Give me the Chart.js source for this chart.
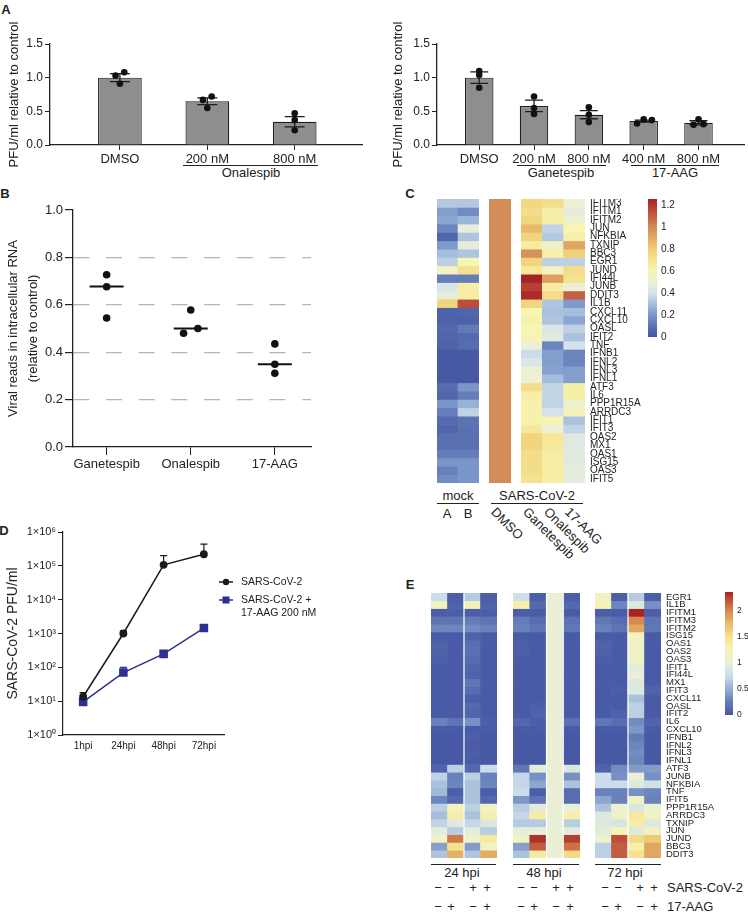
<!DOCTYPE html>
<html>
<head>
<meta charset="utf-8">
<title>HSP90 inhibitors and SARS-CoV-2</title>
<script src="https://cdn.jsdelivr.net/npm/chart.js@4.4.1/dist/chart.umd.min.js"></script>
<style>
  html, body { margin: 0; background: #fff; }
  #fig { position: relative; width: 748px; height: 913px; overflow: hidden;
         font-family: 'Liberation Sans', Arial, sans-serif; color: #222; }
  #fig canvas { position: absolute; }
  .c, .l, .r { position: absolute; white-space: nowrap; line-height: 1; font-size: 13px; }
  .c { transform: translate(-50%, -50%); }
  .l { transform: translateY(-50%); }
  .r { transform-origin: 0 0; transform: rotate(45deg); }
  .p { font-weight: bold; }
  .u { position: absolute; height: 0; border-top: 1.3px solid #222; }
</style>
</head>
<body>
<div id="fig">
  <div class="c p" style="left:6px;top:9px">A</div>
  <div class="c p" style="left:5px;top:193px">B</div>
  <div class="c p" style="left:410px;top:193px">C</div>
  <div class="c p" style="left:4px;top:530px">D</div>
  <div class="c p" style="left:410px;top:584px">E</div>

  <div class="u" style="left:183px;top:165px;width:135px"></div>
  <div class="c" style="left:251px;top:172px">Onalespib</div>
  <div class="u" style="left:517px;top:165px;width:89px"></div>
  <div class="c" style="left:561px;top:172px">Ganetespib</div>
  <div class="u" style="left:631px;top:165px;width:88px"></div>
  <div class="c" style="left:675px;top:172px">17-AAG</div>

  <div class="c" style="left:458px;top:495px">mock</div>
  <div class="u" style="left:437px;top:503px;width:42px"></div>
  <div class="c" style="left:537px;top:495px">SARS-CoV-2</div>
  <div class="u" style="left:491px;top:503px;width:92px"></div>
  <div class="c" style="left:447px;top:513px">A</div>
  <div class="c" style="left:468px;top:513px">B</div>
  <div class="r" style="left:498px;top:505px">DMSO</div>
  <div class="r" style="left:530px;top:505px">Ganetespib</div>
  <div class="r" style="left:551px;top:505px">Onalespib</div>
  <div class="r" style="left:572px;top:505px">17-AAG</div>

  <div class="u" style="left:431px;top:864px;width:65px"></div>
  <div class="c" style="left:462px;top:872px">24 hpi</div>
  <div class="u" style="left:513px;top:864px;width:66px"></div>
  <div class="c" style="left:544px;top:872px">48 hpi</div>
  <div class="u" style="left:595px;top:864px;width:66px"></div>
  <div class="c" style="left:625px;top:872px">72 hpi</div>
  <div class="l" style="left:667px;top:887px">SARS-CoV-2</div>
  <div class="l" style="left:667px;top:906px">17-AAG</div>
</div>

<script>
// ---------- panel A : plaque assay, relative to control ----------
const aOnaLabels = ['DMSO', '200 nM', '800 nM'];
const aOnaMean = [1.0, 0.65, 0.345];
const aOnaSem = [0.06, 0.05, 0.075];
const aOnaReps = [[1.03, 1.08, 0.91], [0.67, 0.72, 0.55], [0.47, 0.37, 0.22]];

const aGanLabels = ['DMSO', '200 nM', '800 nM', '400 nM', '800 nM'];
const aGanMean = [1.0, 0.58, 0.45, 0.355, 0.33];
const aGanSem = [0.085, 0.085, 0.06, 0.015, 0.03];
const aGanReps = [[1.10, 1.04, 0.85], [0.72, 0.55, 0.46], [0.56, 0.45, 0.34], [0.32, 0.38, 0.37], [0.30, 0.38, 0.31]];
const aTicks = [0, 0.5, 1.0, 1.5];

// ---------- panel B : viral reads ----------
const bLabels = ['Ganetespib', 'Onalespib', '17-AAG'];
const bReps = [[0.727, 0.676, 0.544], [0.578, 0.48, 0.50], [0.435, 0.349, 0.311]];
const bMedian = [0.677, 0.50, 0.349];
const bTicks = [0, 0.2, 0.4, 0.6, 0.8, 1.0];

// ---------- panel C : heatmap ----------
const cGenes = ['IFITM3', 'IFITM1', 'IFITM2', 'JUN', 'NFKBIA', 'TXNIP', 'BBC3', 'EGR1', 'JUND', 'IFI44L', 'JUNB', 'DDIT3',
  'IL1B', 'CXCL11', 'CXCL10', 'OASL', 'IFIT2', 'TNF', 'IFNB1', 'IFNL2', 'IFNL3', 'IFNL1', 'ATF3', 'IL6', 'PPP1R15A',
  'ARRDC3', 'IFIT1', 'IFIT3', 'OAS2', 'MX1', 'OAS1', 'ISG15', 'OAS3', 'IFIT5'];
const cMockA = [0.33, 0.22, 0.24, 0.15, 0.05, 0.21, 0.30, 0.35, 0.55, 0.13, 0.42, 0.47, 0.78,
  0.04, 0.04, 0.06, 0.05, 0.04, 0.01, 0.01, 0.01, 0.01,
  0.08, 0.05, 0.20, 0.13, 0.07, 0.05, 0.09, 0.09, 0.13, 0.20, 0.14, 0.17];
const cMockB = [0.33, 0.17, 0.28, 0.48, 0.32, 0.47, 0.32, 0.60, 0.72, 0.13, 0.65, 0.65, 1.15,
  0.05, 0.04, 0.12, 0.07, 0.08, 0.01, 0.01, 0.01, 0.01,
  0.20, 0.13, 0.27, 0.36, 0.10, 0.09, 0.09, 0.09, 0.13, 0.20, 0.20, 0.20];
const cDmso = [1, 1, 1, 1, 1, 1, 1, 1, 1, 1, 1, 1, 1, 1, 1, 1, 1, 1, 1, 1, 1, 1, 1, 1, 1, 1, 1, 1, 1, 1, 1, 1, 1, 1];
const cGanetespib = [0.77, 0.74, 0.77, 0.86, 0.78, 0.66, 0.98, 0.78, 0.68, 1.26, 1.18, 1.24, 0.78,
  0.60, 0.62, 0.60, 0.58, 0.50, 0.38, 0.42, 0.50, 0.50,
  0.74, 0.64, 0.62, 0.62, 0.62, 0.68, 0.78, 0.78, 0.74, 0.74, 0.74, 0.72];
const cOnalespib = [0.74, 0.64, 0.64, 0.36, 0.33, 0.53, 0.62, 0.35, 0.55, 0.94, 0.66, 0.74, 0.32,
  0.31, 0.32, 0.42, 0.46, 0.15, 0.22, 0.22, 0.23, 0.30,
  0.36, 0.36, 0.36, 0.40, 0.60, 0.50, 0.70, 0.68, 0.65, 0.65, 0.66, 0.65];
const cAag = [0.50, 0.47, 0.52, 0.60, 0.64, 0.92, 0.80, 0.35, 0.74, 0.72, 0.50, 1.10, 0.21,
  0.30, 0.24, 0.35, 0.31, 0.40, 0.15, 0.15, 0.22, 0.22,
  0.64, 0.64, 0.52, 0.58, 0.31, 0.36, 0.45, 0.45, 0.46, 0.46, 0.47, 0.47];
const cScaleTicks = [0, 0.2, 0.4, 0.6, 0.8, 1, 1.2];
const cScaleMax = 1.26;

// ---------- panel D : growth curve ----------
const dLabels = ['1hpi', '24hpi', '48hpi', '72hpi'];
const dVirus = [13.5, 1000, 107000, 220000];
const dVirusUpper = [18, 1200, 200000, 440000];
const dVirusAag = [9.5, 70, 250, 1450];
const dVirusAagUpper = [11, 100, 270, 1650];
const dTicks = [1, 10, 100, 1e3, 1e4, 1e5, 1e6];
const dLegendLines = [['SARS-CoV-2'], ['SARS-CoV-2 +', '17-AAG 200 nM']];

// ---------- panel E : time course heatmap ----------
const eGenes = ['EGR1', 'IL1B', 'IFITM1', 'IFITM3', 'IFITM2', 'ISG15', 'OAS1', 'OAS2', 'OAS3', 'IFIT1', 'IFI44L', 'MX1',
  'IFIT3', 'CXCL11', 'OASL', 'IFIT2', 'IL6', 'CXCL10', 'IFNB1', 'IFNL2', 'IFNL3', 'IFNL1', 'ATF3', 'JUNB', 'NFKBIA',
  'TNF', 'IFIT5', 'PPP1R15A', 'ARRDC3', 'TXNIP', 'JUN', 'JUND', 'BBC3', 'DDIT3'];
const e24Mock = [0.75, 1.20, 0.05, 0.20, 0.30, 0.04, 0.07, 0.07, 0.06, 0.03, 0.03, 0.03, 0.03, 0.03, 0.03, 0.03, 0.28,
  0.03, 0.02, 0.02, 0.02, 0.02, 0.10, 0.70, 0.60, 0.55, 0.30, 0.68, 0.58, 0.70, 0.95, 1.12, 0.42, 0.62];
const e24Aag = [0.05, 0.08, 0.05, 0.20, 0.30, 0.03, 0.03, 0.03, 0.03, 0.03, 0.03, 0.03, 0.03, 0.03, 0.03, 0.03, 0.20,
  0.03, 0.02, 0.02, 0.02, 0.02, 0.68, 0.27, 0.30, 0.05, 0.12, 1.20, 1.35, 0.92, 0.66, 2.05, 1.50, 1.80];
const e24Cov = [0.65, 1.20, 0.06, 0.25, 0.32, 0.08, 0.15, 0.18, 0.15, 0.10, 0.08, 0.22, 0.15, 0.05, 0.12, 0.10, 0.35,
  0.04, 0.06, 0.04, 0.05, 0.04, 0.12, 0.68, 0.60, 0.60, 0.60, 0.68, 0.60, 0.72, 0.95, 1.10, 0.40, 0.62];
const e24CovAag = [0.05, 0.08, 0.05, 0.20, 0.28, 0.03, 0.03, 0.03, 0.03, 0.03, 0.03, 0.03, 0.03, 0.03, 0.03, 0.03, 0.05,
  0.03, 0.02, 0.02, 0.02, 0.02, 0.75, 0.28, 0.30, 0.05, 0.12, 1.15, 1.30, 0.88, 0.66, 1.38, 1.15, 1.82];
const e48Mock = [0.80, 1.30, 0.05, 0.25, 0.28, 0.03, 0.06, 0.06, 0.04, 0.03, 0.03, 0.03, 0.03, 0.03, 0.03, 0.03, 0.12,
  0.03, 0.02, 0.02, 0.02, 0.02, 0.22, 0.72, 0.72, 0.75, 0.38, 0.66, 0.72, 0.65, 0.98, 1.15, 0.42, 0.60];
const e48Aag = [0.05, 0.12, 0.04, 0.15, 0.20, 0.03, 0.03, 0.03, 0.03, 0.03, 0.03, 0.03, 0.03, 0.03, 0.06, 0.08, 0.05,
  0.03, 0.02, 0.02, 0.02, 0.02, 0.98, 0.35, 0.45, 0.05, 0.20, 0.95, 1.35, 0.65, 0.98, 2.30, 2.15, 1.38];
const e48Cov = [1, 1, 1, 1, 1, 1, 1, 1, 1, 1, 1, 1, 1, 1, 1, 1, 1, 1, 1, 1, 1, 1, 1, 1, 1, 1, 1, 1, 1, 1, 1, 1, 1, 1];
const e48CovAag = [0.05, 0.12, 0.04, 0.18, 0.22, 0.03, 0.03, 0.03, 0.03, 0.03, 0.03, 0.03, 0.03, 0.03, 0.03, 0.03, 0.18,
  0.03, 0.02, 0.02, 0.02, 0.02, 0.88, 0.35, 0.60, 0.15, 0.16, 1.02, 1.32, 0.66, 0.95, 2.25, 2.08, 1.55];
const e72Mock = [1.15, 1.25, 0.05, 0.22, 0.28, 0.03, 0.08, 0.07, 0.05, 0.03, 0.03, 0.03, 0.03, 0.03, 0.03, 0.03, 0.22,
  0.03, 0.02, 0.02, 0.02, 0.02, 0.08, 0.75, 0.75, 0.28, 0.45, 0.60, 0.90, 0.90, 0.95, 1.05, 0.68, 0.68];
const e72Aag = [0.05, 0.30, 0.04, 0.15, 0.20, 0.03, 0.03, 0.03, 0.03, 0.03, 0.03, 0.03, 0.05, 0.03, 0.03, 0.08, 0.16,
  0.03, 0.02, 0.02, 0.02, 0.02, 0.32, 0.35, 0.75, 0.28, 0.28, 1.05, 1.10, 0.85, 1.25, 2.20, 2.15, 2.15];
const e72Cov = [0.65, 0.90, 2.35, 2.00, 1.85, 1.15, 1.15, 1.12, 1.10, 0.95, 1.00, 0.90, 0.90, 0.60, 0.68, 0.68, 0.32,
  0.38, 0.25, 0.30, 0.32, 0.30, 0.40, 1.00, 0.90, 0.35, 1.15, 0.88, 1.40, 1.35, 0.92, 1.55, 1.30, 1.50];
const e72CovAag = [0.05, 0.35, 0.05, 0.20, 0.22, 0.03, 0.03, 0.03, 0.03, 0.03, 0.03, 0.03, 0.08, 0.03, 0.03, 0.03, 0.08,
  0.03, 0.02, 0.02, 0.02, 0.02, 0.40, 0.35, 0.80, 0.30, 0.28, 1.05, 1.15, 0.90, 1.15, 1.65, 1.85, 1.85];
const eVirusSigns = ['−', '−', '+', '+'];
const eDrugSigns = ['−', '+', '−', '+'];
const eScaleTicks = [0, 0.5, 1, 1.5, 2];
const eScaleMax = 2.35;

// ---------- styles ----------
const ink = '#222';
const aOnaSpread = [[-0.05, 0.05, 0], [-0.05, 0.05, 0], [0, 0, 0]];
const aGanSpread = [[0, 0, 0], [0, 0, 0], [0, 0, 0], [-0.12, 0, 0.15], [-0.09, 0, 0.09]];
const bSpread = [[0, 0, 0], [0, -0.085, 0.085], [0, 0, 0]];
const SUP = ['⁰', '¹', '²', '³', '⁴', '⁵', '⁶'];

const cStops = [[0, [69, 86, 163]], [0.1, [92, 115, 178]], [0.2, [122, 150, 200]], [0.3, [165, 190, 220]],
  [0.4, [212, 226, 236]], [0.5, [236, 240, 212]], [0.6, [248, 244, 178]], [0.7, [246, 230, 150]],
  [0.8, [240, 208, 120]], [0.9, [228, 172, 100]], [1.0, [212, 140, 88]], [1.1, [196, 96, 66]], [1.26, [168, 34, 36]]];
const eStops = [[0, [69, 86, 163]], [0.25, [100, 124, 185]], [0.5, [150, 176, 212]], [0.75, [203, 220, 234]],
  [1.0, [233, 240, 214]], [1.25, [247, 243, 180]], [1.5, [246, 226, 142]], [1.75, [232, 186, 106]],
  [2.0, [214, 135, 82]], [2.2, [190, 78, 56]], [2.35, [168, 34, 36]]];

Chart.defaults.font.family = "'Liberation Sans', Arial, sans-serif";
Chart.defaults.font.size = 12;
Chart.defaults.color = ink;
Chart.defaults.animation = false;
Chart.defaults.events = [];
Chart.defaults.plugins.legend.display = false;
Chart.defaults.plugins.tooltip.enabled = false;

const fig = document.getElementById('fig');

function canvasAt(x, y, w, h) {
  const c = document.createElement('canvas');
  c.width = w;
  c.height = h;
  c.style.left = x + 'px';
  c.style.top = y + 'px';
  fig.appendChild(c);
  return c;
}

function textAt(text, x, y) {
  const d = document.createElement('div');
  d.className = 'c';
  d.style.left = x + 'px';
  d.style.top = y + 'px';
  d.textContent = text;
  fig.appendChild(d);
}

function ticksAt(values) {
  return function (scale) {
    scale.ticks = values.map(v => ({ value: v }));
  };
}

function fixSize(prop, size) {
  return function (scale) {
    scale[prop] = size;
    scale.paddingTop = scale.paddingBottom = scale.paddingLeft = scale.paddingRight = 0;
  };
}

function colorScale(stops) {
  return function (v) {
    let i = 1;
    while (i < stops.length - 1 && v > stops[i][0]) i++;
    const [v0, c0] = stops[i - 1];
    const [v1, c1] = stops[i];
    const t = Math.max(0, Math.min(1, (v - v0) / (v1 - v0)));
    return 'rgb(' + c0.map((c, k) => Math.round(c + (c1[k] - c) * t)).join(',') + ')';
  };
}

function gradientFor(chart, stops, max) {
  const a = chart.chartArea;
  if (!a) return 'transparent';
  const g = chart.ctx.createLinearGradient(0, a.bottom, 0, a.top);
  stops.forEach(s => g.addColorStop(Math.min(1, s[0] / max), 'rgb(' + s[1].join(',') + ')'));
  return g;
}

// error bars drawn right after their own dataset
const errorBars = {
  id: 'errorBars',
  afterDatasetDraw(chart, args) {
    const eb = chart.data.datasets[args.index].errorBars;
    if (!eb) return;
    const y = chart.scales[args.meta.yAxisID];
    const ctx = chart.ctx;
    ctx.save();
    ctx.strokeStyle = eb.color;
    ctx.lineWidth = eb.width;
    args.meta.data.forEach((el, j) => {
      const hi = y.getPixelForValue(eb.high[j]);
      const lo = eb.low ? y.getPixelForValue(eb.low[j]) : el.y;
      ctx.beginPath();
      ctx.moveTo(el.x, lo);
      ctx.lineTo(el.x, hi);
      ctx.moveTo(el.x - eb.cap, hi);
      ctx.lineTo(el.x + eb.cap, hi);
      if (eb.low) {
        ctx.moveTo(el.x - eb.cap, lo);
        ctx.lineTo(el.x + eb.cap, lo);
      }
      ctx.stroke();
    });
    ctx.restore();
  }
};

// thin white separators between heatmap columns
const splitLines = {
  id: 'splitLines',
  afterDatasetsDraw(chart, args, opts) {
    if (!opts.cols) return;
    const bars = chart.getDatasetMeta(0).data;
    const a = chart.chartArea;
    const ctx = chart.ctx;
    ctx.save();
    ctx.fillStyle = '#fff';
    opts.cols.forEach(i => {
      const x = bars[i].x - bars[i].width / 2;
      ctx.fillRect(x - 0.6, a.top, 1.2, a.bottom - a.top);
    });
    ctx.restore();
  }
};

// ---------- panel A ----------
function barPanel(canvas, labels, means, sems, reps, spread, o) {
  return new Chart(canvas, {
    type: 'bar',
    data: {
      datasets: [
        {
          type: 'scatter',
          data: reps.flatMap((r, i) => r.map((v, j) => ({ x: i + spread[i][j], y: v }))),
          pointRadius: 3.3,
          backgroundColor: '#111',
          borderWidth: 0,
          order: 1
        },
        {
          type: 'bar',
          data: means.map((v, i) => ({ x: i, y: v })),
          backgroundColor: '#8e8e91',
          borderColor: '#1e1e1e',
          borderWidth: 1.2,
          barPercentage: o.barPct,
          categoryPercentage: 1,
          order: 2,
          errorBars: {
            high: means.map((m, i) => m + sems[i]),
            low: means.map((m, i) => m - sems[i]),
            cap: o.cap, width: 1.3, color: '#1e1e1e'
          }
        }
      ]
    },
    options: {
      responsive: false,
      layout: { padding: o.padding },
      scales: {
        x: {
          type: 'linear', min: o.xMin, max: o.xMax, offset: false,
          afterBuildTicks: ticksAt(labels.map((l, i) => i)),
          afterFit: fixSize('height', 40),
          ticks: { callback: v => labels[v], font: { size: 13 }, padding: 2 },
          grid: { offset: false, drawOnChartArea: false, tickLength: 5, tickColor: ink },
          border: { color: ink, width: 1.3 }
        },
        y: {
          min: 0, max: 1.5,
          afterBuildTicks: ticksAt(aTicks),
          afterFit: fixSize('width', o.yWidth),
          ticks: { callback: v => v.toFixed(1), font: { size: 12 }, padding: 2 },
          grid: { drawOnChartArea: false, tickLength: 5, tickColor: ink },
          border: { color: ink, width: 1.3 },
          title: { display: true, text: 'PFU/ml relative to control', font: { size: 13 }, padding: { top: 7 } }
        }
      }
    },
    plugins: [errorBars]
  });
}

barPanel(canvasAt(0, 0, 372, 185), aOnaLabels, aOnaMean, aOnaSem, aOnaReps, aOnaSpread,
  { barPct: 0.5, cap: 10, xMin: -0.8, xMax: 2.77, yWidth: 50, padding: { top: 44, right: 10 } });
barPanel(canvasAt(374, 0, 374, 185), aGanLabels, aGanMean, aGanSem, aGanReps, aGanSpread,
  { barPct: 0.52, cap: 9, xMin: -0.77, xMax: 4.83, yWidth: 53, padding: { top: 44, left: 10 } });

// ---------- panel B ----------
new Chart(canvasAt(0, 190, 330, 290), {
  type: 'scatter',
  data: {
    datasets: [
      {
        data: bReps.flatMap((r, i) => r.map((v, j) => ({ x: i + bSpread[i][j], y: v }))),
        pointRadius: 3.8,
        backgroundColor: '#111',
        borderWidth: 0
      },
      {
        data: bMedian.map((m, i) => ({ x: i, y: m })),
        pointStyle: 'line',
        pointRadius: 17,
        borderColor: '#111',
        borderWidth: 2
      }
    ]
  },
  options: {
    responsive: false,
    layout: { padding: { top: 20, right: 18 } },
    scales: {
      x: {
        type: 'linear', min: -0.4, max: 2.43,
        afterBuildTicks: ticksAt([0, 1, 2]),
        afterFit: fixSize('height', 33),
        ticks: { callback: v => bLabels[v], font: { size: 13 }, padding: 2 },
        grid: { drawOnChartArea: false, tickLength: 8, tickColor: ink },
        border: { color: ink, width: 1.3 }
      },
      y: {
        min: 0, max: 1,
        afterBuildTicks: ticksAt(bTicks),
        afterFit: fixSize('width', 73),
        ticks: { callback: v => v.toFixed(1), font: { size: 13 }, padding: 2 },
        grid: {
          color: c => (c.tick.value > 0 && c.tick.value < 1) ? '#b5b5b5' : 'transparent',
          lineWidth: 1.2, tickColor: ink, tickLength: 8
        },
        border: { color: ink, width: 1.3, dash: [16, 16.7] },
        title: {
          display: true,
          text: ['Viral reads in intracellular RNA', '(relative to control)'],
          font: { size: 13, lineHeight: 1.5 },
          padding: { top: 4 }
        }
      }
    }
  }
});

// ---------- heatmaps ----------
function heatBlock(x, y, w, h, genes, cols, colorOf, o) {
  const labelW = o.labelWidth || 0;
  return new Chart(canvasAt(x, y, w + labelW, h), {
    type: 'bar',
    data: {
      labels: cols.map((c, i) => i),
      datasets: genes.map((g, r) => ({
        label: g,
        data: cols.map(() => 1),
        backgroundColor: cols.map(c => colorOf(c[r])),
        borderWidth: 0,
        barPercentage: 1,
        categoryPercentage: 1
      }))
    },
    options: {
      responsive: false,
      layout: { padding: 0 },
      plugins: { splitLines: { cols: o.splits } },
      scales: {
        x: { stacked: true, display: false },
        y: {
          stacked: true, min: 0, max: genes.length, reverse: true, position: 'right',
          display: labelW > 0,
          afterBuildTicks: ticksAt(genes.map((g, i) => i + 0.5)),
          afterFit: fixSize('width', labelW),
          ticks: { autoSkip: false, callback: v => genes[Math.floor(v)], font: o.font, padding: 5 },
          grid: { display: false, drawTicks: false },
          border: { display: false }
        }
      }
    },
    plugins: [splitLines]
  });
}

function colorBar(x, y, w, h, stops, max, ticks, font, labelW) {
  return new Chart(canvasAt(x, y, w + labelW, h), {
    type: 'bar',
    data: {
      labels: [''],
      datasets: [{
        data: [[0, max]],
        barPercentage: 1,
        categoryPercentage: 1,
        backgroundColor: c => gradientFor(c.chart, stops, max)
      }]
    },
    options: {
      responsive: false,
      layout: { padding: { top: 6, bottom: 6 } },
      scales: {
        x: { display: false },
        y: {
          position: 'right', min: 0, max: max,
          afterBuildTicks: ticksAt(ticks),
          afterFit: fixSize('width', labelW),
          ticks: { font: font, padding: 4, callback: v => String(v) },
          grid: { display: false, drawTicks: false },
          border: { display: false }
        }
      }
    }
  });
}

// panel C
const cColor = colorScale(cStops);
heatBlock(437, 199, 42, 284, cGenes, [cMockA, cMockB], cColor, {});
heatBlock(489, 199, 22, 284, cGenes, [cDmso], cColor, {});
heatBlock(521, 199, 64, 284, cGenes, [cGanetespib, cOnalespib, cAag], cColor,
  { labelWidth: 62, font: { size: 10 } });
colorBar(648, 193, 9, 150, cStops, cScaleMax, cScaleTicks, { size: 10 }, 40);

// panel E
const eColor = colorScale(eStops);
heatBlock(431, 593, 66, 265, eGenes, [e24Mock, e24Aag, e24Cov, e24CovAag], eColor, { splits: [2] });
heatBlock(513, 593, 67, 265, eGenes, [e48Mock, e48Aag, e48Cov, e48CovAag], eColor, { splits: [2, 3] });
heatBlock(595, 593, 66, 265, eGenes, [e72Mock, e72Aag, e72Cov, e72CovAag], eColor,
  { splits: [2], labelWidth: 62, font: { size: 9.5 } });
colorBar(725, 586, 8, 135, eStops, eScaleMax, eScaleTicks, { size: 8.5 }, 23);

[0, 83, 167].forEach(dx => {
  [438, 451, 473, 487].forEach((x, i) => {
    textAt(eVirusSigns[i], x + dx, 887);
    textAt(eDrugSigns[i], x + dx, 906);
  });
});

// ---------- panel D ----------
const sideLegend = {
  id: 'sideLegend',
  afterDraw(chart) {
    const ctx = chart.ctx;
    const x0 = chart.chartArea.right - 5;
    const rowY = [62, 80];
    chart.data.datasets.forEach((ds, i) => {
      const y = rowY[i];
      ctx.save();
      ctx.strokeStyle = ds.borderColor;
      ctx.fillStyle = ds.borderColor;
      ctx.lineWidth = 1.5;
      ctx.beginPath();
      ctx.moveTo(x0, y);
      ctx.lineTo(x0 + 14, y);
      ctx.stroke();
      if (ds.pointStyle === 'rect') {
        ctx.fillRect(x0 + 3.5, y - 3.5, 7, 7);
      } else {
        ctx.beginPath();
        ctx.arc(x0 + 7, y, 3.2, 0, Math.PI * 2);
        ctx.fill();
      }
      ctx.fillStyle = ink;
      ctx.font = "10.5px 'Liberation Sans', Arial, sans-serif";
      ctx.textBaseline = 'middle';
      dLegendLines[i].forEach((t, k) => ctx.fillText(t, x0 + 22, y + k * 13));
      ctx.restore();
    });
  }
};

new Chart(canvasAt(0, 520, 330, 240), {
  type: 'line',
  data: {
    labels: dLabels,
    datasets: [
      {
        data: dVirus,
        borderColor: '#1b1b1b',
        backgroundColor: '#1b1b1b',
        pointBackgroundColor: '#1b1b1b',
        borderWidth: 1.5,
        pointStyle: 'circle',
        pointRadius: 3.2,
        errorBars: { high: dVirusUpper, cap: 3.5, width: 1.2, color: '#1b1b1b' }
      },
      {
        data: dVirusAag,
        borderColor: '#2e3192',
        backgroundColor: '#2e3192',
        pointBackgroundColor: '#2e3192',
        borderWidth: 1.5,
        pointStyle: 'rect',
        pointRadius: 5,
        errorBars: { high: dVirusAagUpper, cap: 3.5, width: 1.2, color: '#2e3192' }
      }
    ]
  },
  options: {
    responsive: false,
    layout: { padding: { top: 12, right: 106 } },
    scales: {
      x: {
        offset: true,
        afterFit: fixSize('height', 25),
        ticks: { font: { size: 10 }, padding: 5 },
        grid: { display: false, drawTicks: false },
        border: { color: ink, width: 1.2 }
      },
      y: {
        type: 'logarithmic', min: 1, max: 1e6,
        afterBuildTicks: ticksAt(dTicks),
        afterFit: fixSize('width', 63),
        ticks: { font: { size: 11 }, padding: 2, callback: v => '1×10' + SUP[Math.round(Math.log10(v))] },
        grid: { drawOnChartArea: false, tickLength: 5, tickColor: ink },
        border: { color: ink, width: 1.2 },
        title: { display: true, text: 'SARS-CoV-2 PFU/ml', font: { size: 14 }, padding: { top: 5 } }
      }
    }
  },
  plugins: [errorBars, sideLegend]
});
</script>
</body>
</html>
